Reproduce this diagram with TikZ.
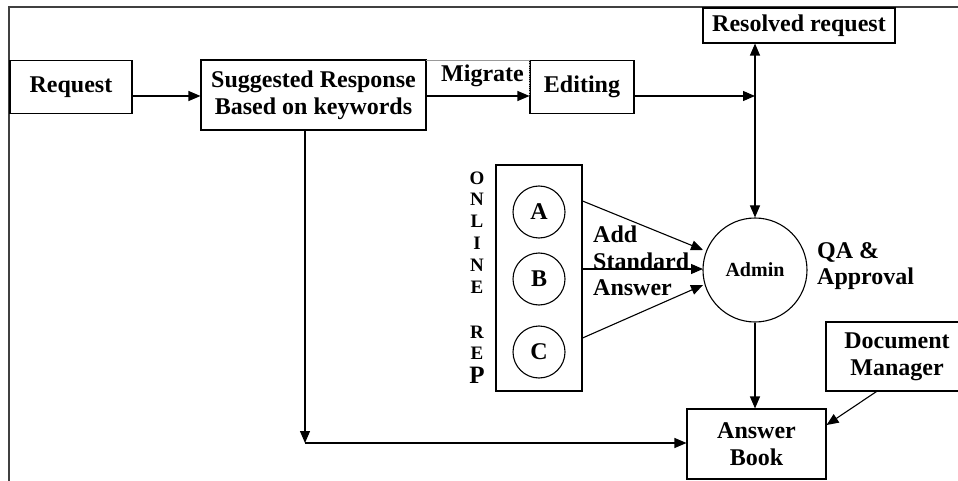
\documentclass[tikz,border=0pt]{standalone}
\usepackage{fontspec}
\setmainfont{Liberation Serif}
\usetikzlibrary{arrows.meta,calc}
\begin{document}
\begin{tikzpicture}[x=1pt,y=-1pt,
  box/.style={draw,line width=1.1pt,inner sep=0pt,align=center,font=\fontsize{24}{27}\selectfont\bfseries},
  circ/.style={draw,circle,line width=1.1pt,inner sep=0pt,font=\fontsize{24}{27}\selectfont\bfseries},
  lbl/.style={inner sep=0pt,align=left,font=\fontsize{24}{26.5}\selectfont\bfseries},
  vl/.style={inner sep=0pt,font=\fontsize{19}{19}\selectfont\bfseries},
  tip/.tip={Triangle[length=12pt,width=10pt]},
  arr/.style={line width=1.1pt,-tip},
  ln/.style={line width=1.1pt}]
\useasboundingbox (0,0) rectangle (958,481);
\clip (0,0) rectangle (958,481);
% frame
\draw[line width=1.2pt,black!75] (9,481) -- (9,7) -- (958,7);
% nodes
\node[box,minimum width=122pt,minimum height=53pt] (req) at (71,87) {Request};
\node[box,minimum width=225pt,minimum height=70pt] (sug) at (313.5,95) {Suggested Response\\Based on keywords};
\node[box,minimum width=104pt,minimum height=53pt] (edit) at (582,87) {Editing};
\node[box,minimum width=192pt,minimum height=35pt] (res) at (799,25.5) {Resolved request};
\node[circ,minimum size=104pt,font=\fontsize{20}{22}\selectfont\bfseries] (admin) at (755,270) {Admin};
\node[box,minimum width=139pt,minimum height=70pt] (ab) at (756.5,444) {Answer\\Book};
\node[box,minimum width=142pt,minimum height=69pt] (dm) at (897,356.5) {Document\\Manager};
\node[draw,line width=1.1pt,minimum width=86pt,minimum height=226pt,inner sep=0pt] (rep) at (539,278) {};
\node[circ,minimum size=52pt] (ca) at (539,212) {A};
\node[circ,minimum size=52pt] (cb) at (539,279) {B};
\node[circ,minimum size=52pt] (cc) at (539,352) {C};
% labels
\node[lbl,anchor=north west] (mig) at (441,65) {Migrate};
\draw[black!40,line width=0.6pt] (426,60) -- (529,60);
\draw[black!40,line width=0.8pt,densely dotted] (529,60) -- (529,96);
\node[lbl,anchor=north west] (add) at (593,226) {Add\\Standard\\Answer};
\node[lbl,anchor=north west] (qa) at (817,242) {QA \&\\Approval};
\node[vl] (l1) at (477,178) {O};
\node[vl] (l2) at (477,199) {N};
\node[vl] (l3) at (477,221) {L};
\node[vl] (l4) at (477,243) {I};
\node[vl] (l5) at (477,265) {N};
\node[vl] (l6) at (477,287) {E};
\node[vl] (l7) at (477,332) {R};
\node[vl] (l8) at (477,353) {E};
\node[vl,font=\fontsize{25}{25}\selectfont\bfseries] (l9) at (477,375) {P};
% connectors
\coordinate (j) at (755,96);
\draw[arr] (req.east |- j) -- (sug.west |- j);
\draw[arr] (sug.east |- j) -- (edit.west |- j);
\draw[arr] (edit.east |- j) -- (j);
\draw[ln,tip-tip] (admin.north |- res.south) -- (admin.north);
\draw[arr] (admin.south) -- (admin.south |- ab.north);
\draw[arr] ($(dm.south west)+(51,0)$) -- (ab.east |- 0,425);
\coordinate (k) at (305,443);
\draw[arr] (sug.south -| k) -- (k);
\draw[arr] (k) -- (ab.west |- k);
\draw[arr] (rep.east |- 0,201) -- (703,250);
\draw[arr] (rep.east |- 0,269) -- (703,269);
\draw[arr] (rep.east |- 0,338) -- (703,285);
\end{tikzpicture}
\end{document}
